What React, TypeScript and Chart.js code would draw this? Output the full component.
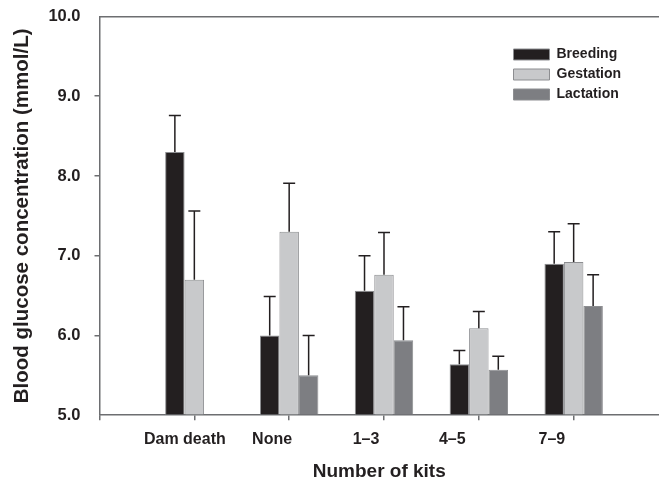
import React, { useEffect, useRef } from 'react';
import { Chart, registerables } from 'chart.js';

Chart.register(...registerables);

// ---- data ----
const categories = ['Dam death', 'None', '1–3', '4–5', '7–9'];
const categoryPositions = [1, 2, 3, 4, 5];
const labelPositions = [0.9, 1.82, 2.81, 3.72, 4.77];
const seriesNames = ['Breeding', 'Gestation', 'Lactation'];
const breeding = [8.3, 6.0, 6.56, 5.64, 6.9];
const breedingSE = [0.46, 0.49, 0.44, 0.17, 0.4];
const gestation = [6.7, 7.3, 6.76, 6.09, 6.92];
const gestationSE = [0.86, 0.61, 0.53, 0.21, 0.48];
const lactation: (number | null)[] = [null, 5.5, 5.94, 5.57, 6.37];
const lactationSE: (number | null)[] = [null, 0.5, 0.42, 0.17, 0.39];
const yMin = 5;
const yMax = 10;
const xMax = 5.9;

const seriesValues = [breeding, gestation, lactation];
const seriesSE = [breedingSE, gestationSE, lactationSE];
const seriesColors = ['#231f20', '#c8c9cb', '#7d7e82'];

const FONT = "'Liberation Sans', Arial, Helvetica, sans-serif";
const TEXT = '#231f20';
const AXIS = '#6d6e71';

const errorBars = {
  id: 'errorBars',
  afterDatasetsDraw(chart: any) {
    const ctx = chart.ctx;
    const ys = chart.scales.y;
    ctx.save();
    ctx.strokeStyle = TEXT;
    ctx.lineWidth = 1.5;
    seriesSE.forEach((se, di) => {
      const meta = chart.getDatasetMeta(di);
      meta.data.forEach((bar: any, j: number) => {
        const v = seriesValues[di][j];
        const e = se[j];
        if (v == null || e == null) return;
        const top = ys.getPixelForValue(v + e);
        const x = bar.x;
        ctx.beginPath();
        ctx.moveTo(x, bar.y);
        ctx.lineTo(x, top);
        ctx.moveTo(x - 6, top);
        ctx.lineTo(x + 6, top);
        ctx.stroke();
      });
    });
    ctx.restore();
  },
};

const legendPlacer = {
  id: 'legendPlacer',
  afterLayout(chart: any) {
    const lg = chart.legend;
    if (!lg) return;
    lg.left = chart.chartArea.left + 408;
    lg.top = chart.chartArea.top + 25;
  },
};

export default function App() {
  const ref = useRef<HTMLCanvasElement>(null);
  useEffect(() => {
    if (!ref.current) return;
    const chart = new Chart(ref.current, {
      type: 'bar',
      data: {
        datasets: seriesNames.map((name, i) => ({
          label: name,
          data: categoryPositions.map((x, j) => ({ x, y: seriesValues[i][j] })),
          backgroundColor: seriesColors[i],
          borderColor: '#8d8e91',
          borderWidth: 1,
          base: yMin,
          categoryPercentage: 0.616,
          barPercentage: 1,
        })) as any,
      },
      options: {
        animation: false,
        responsive: false,
        devicePixelRatio: 1,
        layout: { padding: { left: 12, top: 16.5, right: 0, bottom: 1.8 } },
        plugins: {
          tooltip: { enabled: false },
          legend: {
            position: 'chartArea' as any,
            align: 'start',
            labels: {
              boxWidth: 36,
              boxHeight: 11,
              padding: 6,
              color: TEXT,
              font: { family: FONT, size: 14, weight: 'bold' },
            },
          },
        },
        scales: {
          x: {
            type: 'linear',
            position: 'bottom',
            offset: false,
            min: 0,
            max: xMax,
            weight: 0,
            afterBuildTicks: (s: any) => {
              s.ticks = s.ticks.filter((t: any) => Number.isInteger(t.value));
            },
            ticks: { display: false, stepSize: 1 },
            grid: {
              display: true,
              offset: false,
              drawOnChartArea: false,
              drawTicks: true,
              tickLength: 5,
              color: AXIS,
              lineWidth: 1.5,
            },
            border: { display: true, color: AXIS, width: 1.5 },
          },
          xl: {
            type: 'linear',
            position: 'bottom',
            offset: false,
            min: 0,
            max: xMax,
            weight: 1,
            afterBuildTicks: (s: any) => {
              s.ticks = labelPositions.map((value) => ({ value }));
            },
            grid: { display: false, offset: false },
            border: { display: false },
            ticks: {
              autoSkip: false,
              maxRotation: 0,
              padding: 2,
              color: TEXT,
              font: { family: FONT, size: 16, weight: 'bold' },
              callback: (_v: any, i: number) => categories[i] ?? '',
            },
            title: {
              display: true,
              text: 'Number of kits',
              color: TEXT,
              font: { family: FONT, size: 19, weight: 'bold' },
              padding: { top: 9, bottom: 0 },
            },
          },
          xTop: {
            type: 'linear',
            position: 'top',
            offset: false,
            min: 0,
            max: xMax,
            grid: { display: false, offset: false, drawTicks: false, tickLength: 0 },
            ticks: { display: false },
            border: { display: true, color: AXIS, width: 1.5 },
          },
          y: {
            type: 'linear',
            min: yMin,
            max: yMax,
            afterFit: (s: any) => {
              s.paddingTop = 0;
            },
            ticks: {
              stepSize: 1,
              padding: 14,
              color: TEXT,
              font: { family: FONT, size: 16.5, weight: 'bold', lineHeight: 1 },
              callback: (v: any) => Number(v).toFixed(1),
            },
            grid: {
              drawOnChartArea: false,
              tickLength: 5,
              lineWidth: 1.5,
              tickColor: (c: any) =>
                c.tick && (c.tick.value === yMin || c.tick.value === yMax) ? 'rgba(0,0,0,0)' : AXIS,
            },
            border: { display: true, color: AXIS, width: 1.5 },
            title: {
              display: true,
              text: 'Blood glucose concentration (mmol/L)',
              color: TEXT,
              font: { family: FONT, size: 20.5, weight: 'bold', lineHeight: 1 },
              padding: { top: 0, bottom: 1.9 },
            },
          },
        },
      } as any,
      plugins: [errorBars, legendPlacer],
    });
    return () => chart.destroy();
  }, []);
  return (
    <div style={{ position: 'absolute', left: 0, top: 0, width: 659, height: 485, background: '#fff' }}>
      <canvas ref={ref} width={659} height={485} style={{ display: 'block' }} />
    </div>
  );
}
